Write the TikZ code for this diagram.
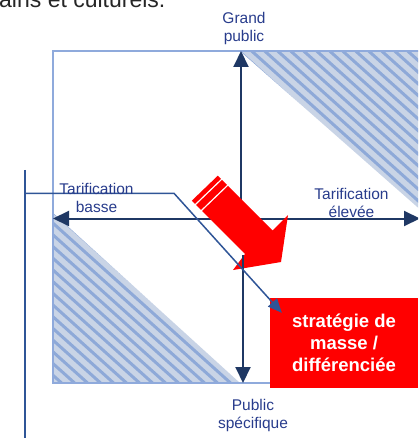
\documentclass[tikz,border=0pt]{standalone}
\usepackage{fontspec}
\setmainfont{Liberation Sans}
\usetikzlibrary{arrows.meta,calc}
\definecolor{sqborder}{HTML}{8FAADC}
\definecolor{hatchbg}{HTML}{C9D4E6}
\definecolor{hatchln}{HTML}{8EA9D8}
\definecolor{axiscol}{HTML}{1F3864}
\definecolor{lblcol}{RGB}{40,60,140}
\definecolor{conncol}{HTML}{2F5597}
\definecolor{boxred}{HTML}{FF0000}
\begin{document}
\begin{tikzpicture}[x=1pt,y=-1pt,
  lbl/.style={text=lblcol, font=\fontsize{15.5}{18}\selectfont, align=center, inner sep=0pt, anchor=base},
  axisline/.style={draw=axiscol, line width=2pt},
  hatchfill/.style={fill=hatchbg},
  hatchline/.style={draw=hatchln, line width=3pt},
  squareline/.style={draw=sqborder, line width=2pt},
  connline/.style={draw=conncol, line width=1.5pt},
  redbox/.style={fill=boxred, text=white, font=\bfseries\fontsize{18.5}{22}\selectfont, align=center, minimum width=148pt, minimum height=90pt, inner sep=0pt},
  redshape/.style={fill=boxred}
]
\clip (0,0) rectangle (418,438);
% header text (cut at top)
\node[anchor=base west, inner sep=0pt, font=\fontsize{23}{27}\selectfont, text=black!85] (hdr) at (-1,7.5) {ains et culturels.};
% hatched triangles
\begin{scope}
  \clip (240,51) -- (440,51) -- (440,227) -- cycle;
  \fill[hatchfill] (240,51) rectangle (440,230);
  \foreach \c in {-390,-377,...,380} \draw[hatchline] (\c,0) -- ++(486.7,438);
\end{scope}
\begin{scope}
  \clip (53,213) -- (53,383) -- (240,383) -- cycle;
  \fill[hatchfill] (53,213) rectangle (240,383);
  \foreach \c in {-390,-377,...,380} \draw[hatchline] (\c,0) -- ++(486.7,438);
\end{scope}
% square border
\draw[squareline] (440,51) -- (53,51) -- (53,383) -- (280,383);
% axes
\coordinate (W) at (53,218.5);
\coordinate (E) at (420,218.5);
\coordinate (Nst) at (241,232);
\coordinate (N) at (241,51);
\coordinate (Sst) at (243,255);
\coordinate (S) at (243,383);
\draw[axisline, {Triangle[length=16pt,width=15pt]}-{Triangle[length=16pt,width=15pt]}] (W) -- (E);
\draw[axisline, -{Triangle[length=16pt,width=15pt]}] (Nst) -- (N);
% red block arrow
\fill[redshape] (228,186) -- (272.5,230.5) -- (288,215) -- (281,262) -- (233,270) -- (245,254) -- (202,211) -- cycle;
\fill[redshape] (200.94,209.94) -- (226.94,184.94) -- (221.99,179.99) -- (195.99,204.99) -- cycle;
\fill[redshape] (194.93,203.93) -- (220.93,178.93) -- (217.75,175.75) -- (191.75,200.75) -- cycle;
\draw[axisline, -{Triangle[length=16pt,width=15pt]}] (Sst) -- (S);
% box
\node[redbox] (box) at (344,343) {stratégie de\\masse /\\différenciée};
% connector
\coordinate (ltop) at (25,170);
\coordinate (lbot) at (25,440);
\coordinate (ljoin) at (25,193.3);
\coordinate (lbend) at (174,193.3);
\draw[connline, line width=2pt] (ltop) -- (lbot);
\draw[connline, -{Triangle[length=14pt,width=12pt]}] (ljoin) -- (lbend) -- ($(box.north west)+(12,15)$);
% labels (anchor base = last line's baseline)
\node[lbl] (gp) at (244,41.3) {Grand\\public};
\node[lbl] (tb) at (96.5,212.5) {Tarification\\basse};
\node[lbl] (te) at (351.5,217) {Tarification\\élevée};
\node[lbl] (ps) at (253,428) {Public\\spécifique};
\end{tikzpicture}
\end{document}
